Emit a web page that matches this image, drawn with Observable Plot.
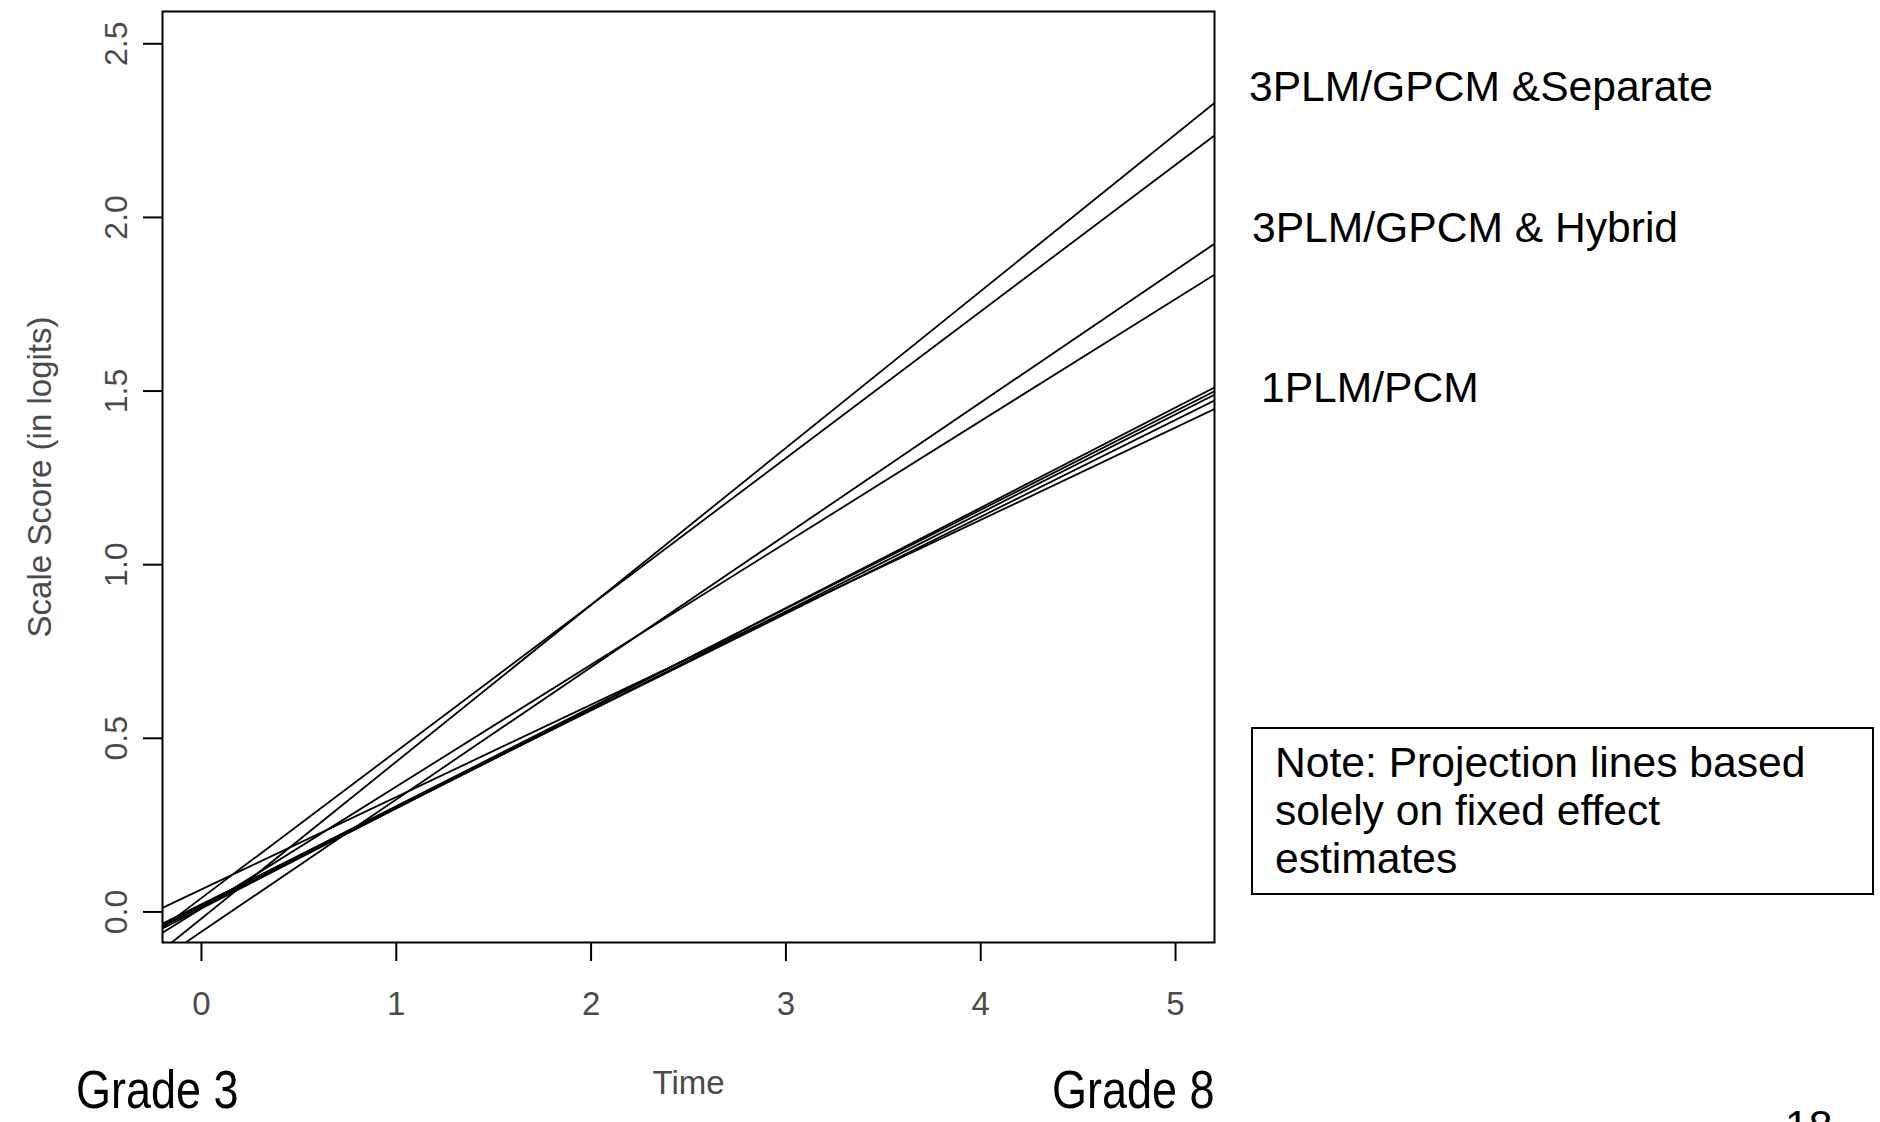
<!DOCTYPE html>
<html>
<head>
<meta charset="utf-8">
<script src="https://cdn.jsdelivr.net/npm/d3@7"></script>
<script src="https://cdn.jsdelivr.net/npm/@observablehq/plot@0.6"></script>
<style>
  html, body { margin: 0; padding: 0; background: #fff; }
  #chart { position: relative; width: 1880px; height: 1122px; overflow: hidden;
           font-family: "Liberation Sans", Arial, sans-serif; color: #000; }
  #chart svg { position: absolute; left: 0; top: 0; }
  #chart svg [aria-label^="x-axis"] line,
  #chart svg [aria-label^="y-axis"] line,
  #chart svg [aria-label^="x-axis"] path,
  #chart svg [aria-label^="y-axis"] path { stroke: #000; stroke-width: 2px; }
  #chart svg [aria-label^="x-axis"] text { fill: #4a4a4a; font-size: 33px; }
  .label { position: absolute; font-size: 42.6px; line-height: 42px; white-space: nowrap; }
  .grade { position: absolute; font-size: 45px; line-height: 45px; white-space: nowrap;
           transform: scaleY(1.2); transform-origin: 0 80%; }
  .note { position: absolute; box-sizing: border-box; border: 2px solid #000;
          font-size: 42.6px; line-height: 48px; padding: 9px 0 0 22px; white-space: nowrap; }
</style>
</head>
<body>
<div id="chart"></div>
<script>
// Time axis (0 = Grade 3, 5 = Grade 8) and score axis ticks
const timeTicks = [0, 1, 2, 3, 4, 5];
const scoreTicks = [0, 0.5, 1.0, 1.5, 2.0, 2.5];

// Fixed-effect growth estimates, one projection line per calibration/linking condition
const models = [
  "3PLM/GPCM & Separate", "3PLM/GPCM & Separate",
  "3PLM/GPCM & Hybrid", "3PLM/GPCM & Hybrid",
  "1PLM/PCM", "1PLM/PCM", "1PLM/PCM", "1PLM/PCM", "1PLM/PCM"
];
const intercepts = [-0.019, 0.040, -0.057, 0.010, 0.065, 0.022, 0.015, 0.010, 0.020];
const slopes     = [0.4517, 0.4223, 0.381, 0.351, 0.266, 0.279, 0.2835, 0.2885, 0.2845];

// Plotting window on both axes
const timeRange = [-0.2, 5.2];
const scoreRange = [-0.088, 2.593];

// Each projection is a straight line: score = intercept + slope * time,
// evaluated at the two ends of the time window.
const projections = models.flatMap((model, i) =>
  timeRange.map(time => ({line: i, model, time, score: intercepts[i] + slopes[i] * time}))
);

const axisGrey = "#4a4a4a";
const fmt = d3.format(".1f");

const chart = Plot.plot({
  width: 1880,
  height: 1122,
  marginLeft: 162,
  marginRight: 666,
  marginTop: 11,
  marginBottom: 180,
  style: {background: "transparent", fontFamily: '"Liberation Sans", Arial, sans-serif',
          fontSize: "33px", color: "#000"},
  x: {domain: timeRange, ticks: timeTicks, tickFormat: d3.format("d"), tickSize: 19, tickPadding: 30, label: null},
  y: {domain: scoreRange, ticks: scoreTicks, tickSize: 19, tickFormat: () => "", label: null},
  marks: [
    Plot.line(projections, {x: "time", y: "score", z: "line", stroke: "#000", strokeWidth: 1.8, clip: true}),
    Plot.frame({stroke: "#000", strokeWidth: 2}),
    Plot.text(scoreTicks, {frameAnchor: "left", y: d => d, text: d => fmt(d), rotate: -90,
                           textAnchor: "middle", dx: -36, lineAnchor: "bottom", fontSize: 32, fill: axisGrey}),
    Plot.text(["Time"], {frameAnchor: "bottom", dy: 151, lineAnchor: "bottom", fontSize: 33, fill: axisGrey}),
    Plot.text(["Scale Score (in logits)"], {frameAnchor: "left", dx: -122, rotate: -90,
                                            textAnchor: "middle", fontSize: 33, fill: axisGrey})
  ]
});

const root = document.getElementById("chart");
root.appendChild(chart);

// Annotations around the plot
function addDiv(cls, html, style) {
  const el = document.createElement("div");
  el.className = cls;
  el.innerHTML = html;
  Object.assign(el.style, style);
  root.appendChild(el);
  return el;
}
addDiv("label", "3PLM/GPCM &amp;Separate", {left: "1249px", top: "65px"});
addDiv("label", "3PLM/GPCM &amp; Hybrid", {left: "1252px", top: "206px"});
addDiv("label", "1PLM/PCM", {left: "1261px", top: "366px"});
addDiv("note", "Note: Projection lines based<br>solely on fixed effect<br>estimates",
       {left: "1251px", top: "727px", width: "623px", height: "168px"});
addDiv("grade", "Grade 3", {left: "76px", top: "1070px"});
addDiv("grade", "Grade 8", {left: "1052px", top: "1070px"});
addDiv("label", "18", {left: "1785px", top: "1104px"});
</script>
</body>
</html>
